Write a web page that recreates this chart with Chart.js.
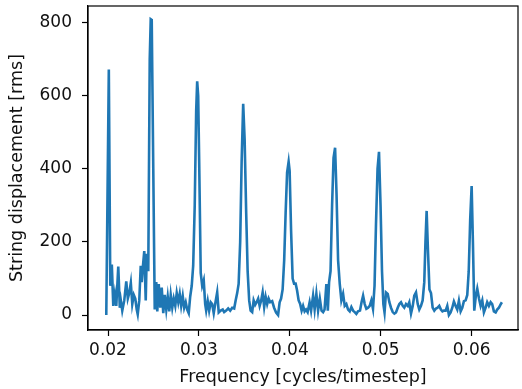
<!DOCTYPE html>
<html>
<head>
<meta charset="utf-8">
<script src="https://cdn.jsdelivr.net/npm/chart.js@4/dist/chart.umd.min.js"></script>
<style>
  html, body { margin: 0; padding: 0; background: #fff; }
  canvas { display: block; }
</style>
</head>
<body>
<canvas id="spectrum" width="522" height="389"></canvas>
<script>
// frequency [cycles/timestep]
const freq = [
  0.01981, 0.02009, 0.02025, 0.02042, 0.02058, 0.02075, 0.02091, 0.02113, 0.02130, 0.02141,
  0.02157, 0.02179, 0.02201, 0.02218, 0.02234, 0.02251, 0.02267, 0.02284, 0.02300, 0.02316,
  0.02327, 0.02344, 0.02360, 0.02371, 0.02382, 0.02399, 0.02415, 0.02426, 0.02443, 0.02459,
  0.02470, 0.02481, 0.02498, 0.02514, 0.02531, 0.02542, 0.02558, 0.02575, 0.02591, 0.02608,
  0.02624, 0.02641, 0.02657, 0.02674, 0.02690, 0.02707, 0.02723, 0.02740, 0.02756, 0.02773,
  0.02789, 0.02805, 0.02822, 0.02838, 0.02855, 0.02871, 0.02888, 0.02904, 0.02921, 0.02937,
  0.02954, 0.02970, 0.02981, 0.02992, 0.03003, 0.03020, 0.03036, 0.03053, 0.03069, 0.03080,
  0.03097, 0.03113, 0.03130, 0.03146, 0.03163, 0.03179, 0.03201, 0.03218, 0.03240, 0.03262,
  0.03278, 0.03300, 0.03322, 0.03344, 0.03366, 0.03388, 0.03404, 0.03421, 0.03437, 0.03454,
  0.03470, 0.03487, 0.03503, 0.03520, 0.03536, 0.03553, 0.03569, 0.03586, 0.03602, 0.03619,
  0.03635, 0.03652, 0.03668, 0.03685, 0.03701, 0.03718, 0.03734, 0.03751, 0.03767, 0.03784,
  0.03806, 0.03827, 0.03849, 0.03871, 0.03888, 0.03904, 0.03921, 0.03938, 0.03954, 0.03970,
  0.03987, 0.03998, 0.04014, 0.04031, 0.04047, 0.04064, 0.04080, 0.04097, 0.04113, 0.04130,
  0.04146, 0.04163, 0.04179, 0.04196, 0.04218, 0.04234, 0.04256, 0.04273, 0.04292, 0.04311,
  0.04330, 0.04349, 0.04366, 0.04382, 0.04402, 0.04418, 0.04432, 0.04448, 0.04465, 0.04481,
  0.04498, 0.04514, 0.04531, 0.04549, 0.04567, 0.04586, 0.04604, 0.04622, 0.04641, 0.04659,
  0.04677, 0.04696, 0.04714, 0.04732, 0.04750, 0.04772, 0.04789, 0.04806, 0.04824, 0.04842,
  0.04861, 0.04879, 0.04897, 0.04915, 0.04932, 0.04948, 0.04965, 0.04981, 0.04998, 0.05014,
  0.05029, 0.05042, 0.05058, 0.05077, 0.05095, 0.05113, 0.05132, 0.05150, 0.05168, 0.05187,
  0.05205, 0.05223, 0.05242, 0.05259, 0.05278, 0.05297, 0.05314, 0.05333, 0.05352, 0.05369,
  0.05388, 0.05407, 0.05424, 0.05443, 0.05461, 0.05479, 0.05492, 0.05505, 0.05519, 0.05536,
  0.05553, 0.05571, 0.05589, 0.05608, 0.05626, 0.05644, 0.05662, 0.05679, 0.05695, 0.05714,
  0.05732, 0.05750, 0.05769, 0.05787, 0.05805, 0.05824, 0.05842, 0.05860, 0.05879, 0.05897,
  0.05915, 0.05934, 0.05952, 0.05968, 0.05984, 0.06000, 0.06014, 0.06029, 0.06045, 0.06062,
  0.06081, 0.06099, 0.06117, 0.06135, 0.06154, 0.06171, 0.06190, 0.06209, 0.06226, 0.06245,
  0.06264, 0.06281, 0.06300, 0.06316, 0.06333
];

// string displacement [rms]
const disp = [
  0, 672, 80, 138, 25, 58, 25, 133, 20, 40,
  12, 40, 92, 45, 60, 88, 30, 55, 45, 15,
  2, 40, 135, 90, 128, 175, 40, 168, 120, 700,
  810, 808, 400, 15, 90, 10, 85, 20, 75, 5,
  55, 15, 50, 10, 55, 20, 45, 25, 60, 35,
  58, 25, 52, 20, 35, 15, 5, 50, 80, 135,
  300, 560, 640, 600, 420, 115, 80, 95, 30, 12,
  38, 12, 35, 30, 5, 30, 62, 7, 12, 15,
  8, 12, 18, 12, 20, 18, 40, 60, 85, 200,
  420, 578, 480, 280, 120, 40, 12, 8, 40, 28,
  35, 45, 25, 40, 62, 22, 50, 30, 45, 35,
  38, 20, 7, 0, 35, 45, 70, 150, 280, 390,
  420, 395, 230, 100, 86, 86, 67, 40, 31, 12,
  25, 10, 15, 8, 35, 12, 53, 15, 58, 12,
  45, 12, 8, 15, 85, 12, 90, 120, 300, 430,
  458, 330, 150, 86, 40, 58, 25, 30, 15, 10,
  22, 12, 8, 3, 10, 12, 35, 53, 30, 17,
  20, 25, 40, 17, 80, 250, 400, 447, 300, 120,
  30, 7, 62, 58, 35, 20, 8, 4, 7, 20,
  30, 35, 25, 20, 30, 25, 35, 4, 25, 53,
  62, 30, 15, 25, 40, 90, 200, 285, 180, 70,
  60, 20, 12, 18, 20, 25, 15, 10, 12, 12,
  25, 0, 7, 20, 37, 25, 15, 39, 10, 20,
  38, 40, 55, 120, 260, 353, 200, 12, 50, 72,
  45, 25, 40, 7, 20, 35, 25, 35, 30, 10,
  7, 15, 20, 28, 35
];

const xTicks = [0.02, 0.03, 0.04, 0.05, 0.06];
const yTicks = [0, 200, 400, 600, 800];

const FONT = "'DejaVu Sans', sans-serif";

// matplotlib draws a full box around the axes
const frameBox = {
    id: 'frameBox',
    afterDraw(chart) {
        const a = chart.chartArea;
        const ctx = chart.ctx;
        ctx.save();
        ctx.strokeStyle = '#000';
        ctx.lineWidth = 1.2;
        ctx.strokeRect(a.left, a.top, a.right - a.left, a.bottom - a.top);
        ctx.restore();
    }
};

new Chart(document.getElementById('spectrum'), {
    type: 'scatter',
    data: {
        datasets: [{
            data: freq.map((f, i) => ({ x: f, y: disp[i] })),
            showLine: true,
            borderColor: '#1f77b4',
            borderWidth: 2.6,
            pointRadius: 0,
            tension: 0
        }]
    },
    options: {
        responsive: false,
        animation: false,
        devicePixelRatio: 1,
        layout: { padding: { top: 6, right: 4, left: 0, bottom: 0 } },
        plugins: {
            legend: { display: false },
            tooltip: { enabled: false }
        },
        scales: {
            x: {
                type: 'linear',
                min: 0.0178,
                max: 0.0651,
                afterFit: s => { s.height = 59; s.paddingLeft = 0; s.paddingRight = 0; },
                afterBuildTicks: s => { s.ticks = xTicks.map(v => ({ value: v })); },
                grid: { drawOnChartArea: false, tickLength: 6, tickColor: '#000', tickWidth: 1.2 },
                border: { color: '#000', width: 1.2 },
                ticks: {
                    color: '#111',
                    font: { family: FONT, size: 17 },
                    padding: 4,
                    callback: v => v.toFixed(2)
                },
                title: {
                    display: true,
                    text: 'Frequency [cycles/timestep]',
                    color: '#111',
                    font: { family: FONT, size: 17.5 },
                    padding: { top: 0, bottom: 1 }
                }
            },
            y: {
                type: 'linear',
                min: -41,
                max: 846,
                afterFit: s => { s.width = 88; s.paddingTop = 0; s.paddingBottom = 0; },
                afterBuildTicks: s => { s.ticks = yTicks.map(v => ({ value: v })); },
                grid: { drawOnChartArea: false, tickLength: 6, tickColor: '#000', tickWidth: 1.2 },
                border: { color: '#000', width: 1.2 },
                ticks: {
                    color: '#111',
                    font: { family: FONT, size: 17 },
                    padding: 10,
                    callback: v => String(v)
                },
                title: {
                    display: true,
                    text: 'String displacement [rms]',
                    color: '#111',
                    font: { family: FONT, size: 17.5 },
                    padding: { top: 7, bottom: 0 }
                }
            }
        }
    },
    plugins: [frameBox]
});
</script>
</body>
</html>
